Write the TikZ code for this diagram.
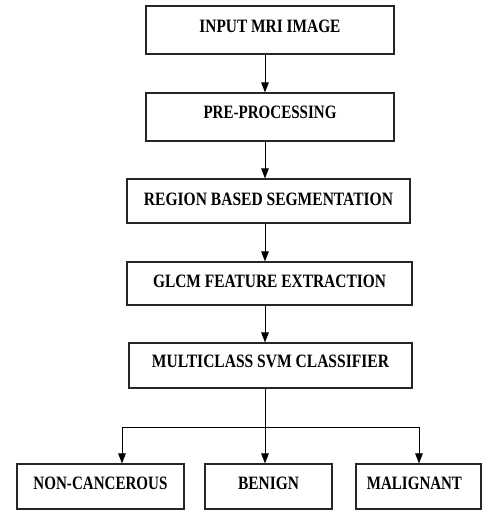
\documentclass[tikz,border=0pt]{standalone}
\usepackage{fontspec}
\setmainfont{Liberation Serif}
\usetikzlibrary{arrows.meta}
\newcommand{\boxtext}[3]{\raisebox{\dimexpr#1-6.25pt\relax}[0pt][0pt]{\resizebox{#2}{12.5pt}{\bfseries #3}}}
\tikzset{
  procbox/.style={draw=black!85, line width=1.1pt, rectangle, inner sep=0pt, anchor=center},
  arr/.style={draw=black, line width=1pt, -{Triangle[length=10pt,width=7.5pt]}},
  conn/.style={draw=black, line width=1pt}
}
\begin{document}
\begin{tikzpicture}[x=1pt,y=-1pt]
\useasboundingbox (0,0) rectangle (482,512);
\node[procbox, minimum width=248pt, minimum height=48pt] (b1) at (270,30) {\boxtext{4pt}{141pt}{INPUT MRI IMAGE}};
\node[procbox, minimum width=248pt, minimum height=48pt] (b2) at (270,117) {\boxtext{4.5pt}{133pt}{PRE-PROCESSING}};
\node[procbox, minimum width=283pt, minimum height=44pt] (b3) at (268.5,201) {\boxtext{2pt}{249pt}{REGION BASED SEGMENTATION}};
\node[procbox, minimum width=285pt, minimum height=43pt] (b4) at (269.5,283.5) {\boxtext{2pt}{233pt}{GLCM FEATURE EXTRACTION}};
\node[procbox, minimum width=283pt, minimum height=45pt] (b5) at (270.5,365.5) {\boxtext{4pt}{237pt}{MULTICLASS SVM CLASSIFIER}};
\node[procbox, minimum width=167pt, minimum height=45pt] (n1) at (100.5,486.5) {\boxtext{3pt}{134pt}{NON-CANCEROUS}};
\node[procbox, minimum width=127pt, minimum height=45pt] (n2) at (268.5,486.5) {\boxtext{3pt}{61pt}{BENIGN}};
\node[procbox, minimum width=125pt, minimum height=45pt] (n3) at (418.5,486.5) {\hspace*{-8pt}\boxtext{3pt}{95pt}{MALIGNANT}};
\coordinate (ax) at (265,0);
\coordinate (c1) at (122,0);
\coordinate (c3) at (419,0);
\coordinate (j) at (265,427);
\draw[arr] (b1.south -| ax) -- (b2.north -| ax);
\draw[arr] (b2.south -| ax) -- (b3.north -| ax);
\draw[arr] (b3.south -| ax) -- (b4.north -| ax);
\draw[arr] (b4.south -| ax) -- (b5.north -| ax);
\draw[arr] (b5.south -| ax) -- (n2.north -| ax);
\draw[arr] (j) -| (n1.north -| c1);
\draw[arr] (j) -| (n3.north -| c3);
\end{tikzpicture}
\end{document}
